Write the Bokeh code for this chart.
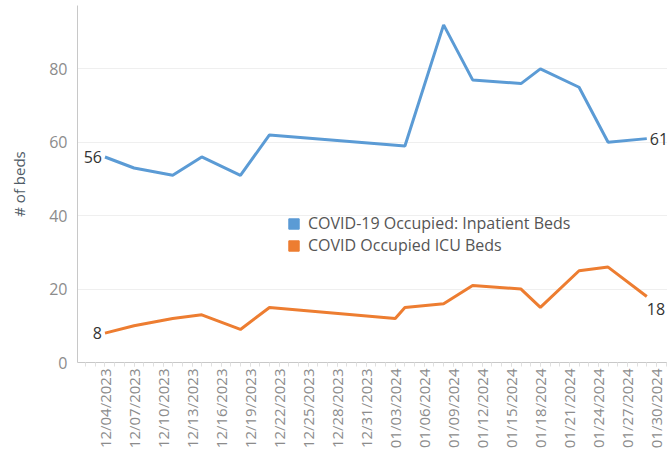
import pandas as pd
from bokeh.plotting import figure
from bokeh.models import Range1d, FixedTicker, DatetimeTickFormatter, Legend, LegendItem
from bokeh.core.properties import value
from bokeh.embed import file_html
from bokeh.resources import INLINE
import math

# ---- data ----
inpatient_dates = ["2023-12-04", "2023-12-07", "2023-12-11", "2023-12-14", "2023-12-18",
                   "2023-12-21", "2024-01-04", "2024-01-08", "2024-01-11", "2024-01-16",
                   "2024-01-18", "2024-01-22", "2024-01-25", "2024-01-29"]
inpatient_beds = [56, 53, 51, 56, 51, 62, 59, 92, 77, 76, 80, 75, 60, 61]

icu_dates = ["2023-12-04", "2023-12-07", "2023-12-11", "2023-12-14", "2023-12-18",
             "2023-12-21", "2024-01-03", "2024-01-04", "2024-01-08", "2024-01-11",
             "2024-01-16", "2024-01-18", "2024-01-22", "2024-01-25", "2024-01-29"]
icu_beds = [8, 10, 12, 13, 9, 15, 12, 15, 16, 21, 20, 15, 25, 26, 18]

series_names = ["COVID-19 Occupied: Inpatient Beds", "COVID Occupied ICU Beds"]
y_ticks = [0, 20, 40, 60, 80]
x_tick_start = "2023-12-04"
x_tick_end = "2024-01-30"
x_tick_step_days = 3

BLUE = "#5b9bd5"
ORANGE = "#ed7d31"
FONT = "Open Sans"

xb = pd.to_datetime(inpatient_dates)
xo = pd.to_datetime(icu_dates)

t0 = pd.Timestamp(x_tick_start)
day = pd.Timedelta(days=1)

W, H = 667, 460
LEFT, TOP, BOTTOM = 77, 5, 98
frame_h = H - TOP - BOTTOM
px_per_unit = 3.67
y_top = frame_h / px_per_unit

p = figure(width=W, height=H, x_axis_type="datetime", output_backend="svg",
           toolbar_location=None, min_border_left=LEFT, min_border_right=0,
           min_border_top=TOP, min_border_bottom=BOTTOM,
           x_range=Range1d(t0 - 2.84 * day, t0 + 58.14 * day),
           y_range=Range1d(0, y_top))
p.outline_line_color = None
p.background_fill_color = "white"
p.border_fill_color = "white"

lb = p.line(xb, inpatient_beds, line_color=BLUE, line_width=3)
lo = p.line(xo, icu_beds, line_color=ORANGE, line_width=3)

# x axis
major = pd.date_range(x_tick_start, x_tick_end, freq=f"{x_tick_step_days}D")
minor = pd.date_range(pd.Timestamp(x_tick_start) - 3 * day, pd.Timestamp(x_tick_end) + 2 * day, freq="1D")
to_ms = lambda ts: [t.value / 1e6 for t in ts]
p.xaxis.ticker = FixedTicker(ticks=to_ms(major), minor_ticks=to_ms(minor))
fmt = "%m/%d/%Y"
p.xaxis.formatter = DatetimeTickFormatter(days=fmt, months=fmt, years=fmt, hours=fmt,
                                          hourmin=fmt, minutes=fmt, minsec=fmt,
                                          seconds=fmt, milliseconds=fmt, microseconds=fmt)
p.xaxis.major_label_orientation = math.pi / 2
p.xaxis.major_label_text_font = FONT
p.xaxis.major_label_text_font_size = "15px"
p.xaxis.major_label_text_color = "#8c8c8c"
p.xaxis.axis_line_color = "#c8c8c8"
p.xaxis.major_tick_out = 4
p.xaxis.major_tick_in = 0
p.xaxis.minor_tick_out = 4
p.xaxis.minor_tick_in = 0
p.xaxis.major_tick_line_color = "#e0e0e0"
p.xaxis.minor_tick_line_color = "#e0e0e0"
p.xaxis.major_label_standoff = 2
p.xgrid.grid_line_color = None

# y axis
p.yaxis.ticker = FixedTicker(ticks=y_ticks)
p.yaxis.major_label_text_font = FONT
p.yaxis.major_label_text_font_size = "16px"
p.yaxis.major_label_text_color = "#8c8c8c"
p.yaxis.axis_line_color = "#c8c8c8"
p.yaxis.major_tick_out = 0
p.yaxis.major_tick_in = 0
p.yaxis.minor_tick_line_color = None
p.yaxis.major_label_standoff = 10
p.yaxis.axis_label = "# of beds"
p.yaxis.axis_label_text_font = FONT
p.yaxis.axis_label_text_font_size = "15px"
p.yaxis.axis_label_text_font_style = "normal"
p.yaxis.axis_label_text_color = "#4f5b66"
p.yaxis.axis_label_standoff = 17
p.ygrid.grid_line_color = "#efefef"
p.ygrid.grid_line_width = 1

# end labels
lab_kw = dict(text_font=value(FONT), text_font_size="16px", text_color="#333333")
p.text(x=[xb[0]], y=[inpatient_beds[0]], text=[str(inpatient_beds[0])], text_align="right",
       text_baseline="middle", x_offset=-3, **lab_kw)
p.text(x=[xo[0]], y=[icu_beds[0]], text=[str(icu_beds[0])], text_align="right",
       text_baseline="middle", x_offset=-3, **lab_kw)
p.text(x=[xb[-1]], y=[inpatient_beds[-1]], text=[str(inpatient_beds[-1])], text_align="left",
       text_baseline="middle", x_offset=3, **lab_kw)
p.text(x=[xo[-1]], y=[icu_beds[-1]], text=[str(icu_beds[-1])], text_align="left",
       text_baseline="top", x_offset=0, y_offset=7, **lab_kw)

# legend with square swatches (swatch renderers sit outside the visible range)
far_l, far_r = [t0 - 400 * day], [t0 - 399 * day]
far_b, far_t = [-1000], [-999]
sq_b = p.quad(left=far_l, right=far_r, bottom=far_b, top=far_t, fill_color=BLUE, line_color=BLUE)
sq_o = p.quad(left=far_l, right=far_r, bottom=far_b, top=far_t, fill_color=ORANGE, line_color=ORANGE)
legend = Legend(items=[LegendItem(label=series_names[0], renderers=[sq_b]),
                       LegendItem(label=series_names[1], renderers=[sq_o])],
                location=(210, 106), orientation="vertical")
legend.border_line_color = None
legend.background_fill_alpha = 0
legend.padding = 0
legend.margin = 0
legend.spacing = 0
legend.glyph_width = 13
legend.glyph_height = 13
legend.label_height = 13
legend.label_standoff = 8
legend.label_text_font = FONT
legend.label_text_font_size = "16px"
legend.label_text_color = "#555555"
p.add_layout(legend, "center")

open("out.html", "w").write(file_html(p, INLINE))
